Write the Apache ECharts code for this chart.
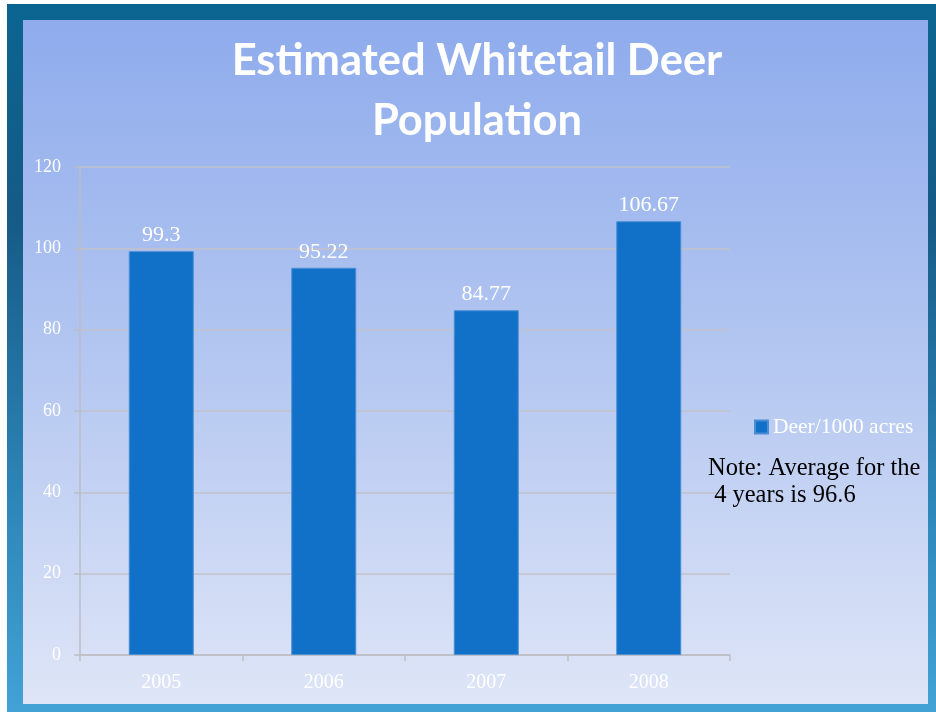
<!DOCTYPE html>
<html>
<head>
<meta charset="utf-8">
<script src="https://cdn.jsdelivr.net/npm/echarts@6/dist/echarts.min.js"></script>
<style>
html,body{margin:0;padding:0;background:#ffffff;}
#chart{width:936px;height:712px;}
</style>
</head>
<body>
<div id="chart"></div>
<script>
var titleLines = ['Estimated Whitetail Deer', 'Population'];
var years = ['2005', '2006', '2007', '2008'];
var deerPer1000Acres = [99.3, 95.22, 84.77, 106.67];
var seriesName = 'Deer/1000 acres';
var yTicks = {min: 0, max: 120, interval: 20};
var noteLines = ['Note: Average for the', ' 4 years is 96.6'];

var serif = '"Liberation Serif", "DejaVu Serif", serif';
var chart = echarts.init(document.getElementById('chart'));
chart.setOption({
  animation: false,
  title: {
    text: titleLines.join('\n'),
    left: 472,
    textAlign: 'center',
    top: 26,
    textStyle: {color: '#ffffff', fontFamily: 'Lato', fontWeight: 'bold', fontSize: 43.5, lineHeight: 60}
  },
  legend: {
    data: [seriesName],
    left: 754,
    top: 416,
    padding: 0,
    itemWidth: 13,
    itemHeight: 13,
    icon: 'rect',
    itemGap: 4,
    textStyle: {color: '#ffffff', fontFamily: serif, fontSize: 21.5, padding: [0, 0, 0, 0]}
  },
  graphic: [
    {type: 'rect', z: -20, silent: true, shape: {x: 7, y: 4, width: 929, height: 708},
      style: {fill: new echarts.graphic.LinearGradient(0, 0, 0, 1, [
        {offset: 0, color: '#0a6590'}, {offset: 0.3, color: '#165a86'}, {offset: 0.7, color: '#2d86b8'}, {offset: 1, color: '#42a2d6'}])}},
    {type: 'rect', z: -19, silent: true, shape: {x: 23, y: 20, width: 905, height: 684},
      style: {fill: new echarts.graphic.LinearGradient(0, 0, 0, 1, [
        {offset: 0, color: '#8eabec'}, {offset: 0.5, color: '#b4c7f1'}, {offset: 1, color: '#dee5f7'}])}},
    {type: 'text', z: 10, left: 708, top: 455,
      style: {text: noteLines.join('\n'), fill: '#000000', font: '24.5px ' + serif, lineHeight: 27}}
  ],
  grid: {left: 80, right: 206, top: 167, bottom: 57},
  xAxis: {
    type: 'category',
    data: years,
    axisLine: {lineStyle: {color: '#bdbdc4', width: 1.5}},
    axisTick: {show: true, length: 6, lineStyle: {color: '#bdbdc4', width: 1.5}},
    axisLabel: {color: '#ffffff', fontFamily: serif, fontSize: 20, margin: 18}
  },
  yAxis: {
    type: 'value',
    min: yTicks.min, max: yTicks.max, interval: yTicks.interval,
    axisLine: {show: true, lineStyle: {color: '#bdbdc4', width: 1.5}},
    axisTick: {show: true, length: 6, lineStyle: {color: '#bdbdc4', width: 1.5}},
    splitLine: {lineStyle: {color: '#c2c2ca', width: 1.5}},
    axisLabel: {color: '#ffffff', fontFamily: serif, fontSize: 18, margin: 19}
  },
  series: [{
    name: seriesName,
    type: 'bar',
    data: deerPer1000Acres,
    barWidth: '40%',
    itemStyle: {color: '#1170c8', borderColor: '#4a8ed4', borderWidth: 1},
    label: {show: true, position: 'top', distance: 5, color: '#ffffff', fontFamily: serif, fontSize: 22}
  }]
});
</script>
</body>
</html>
